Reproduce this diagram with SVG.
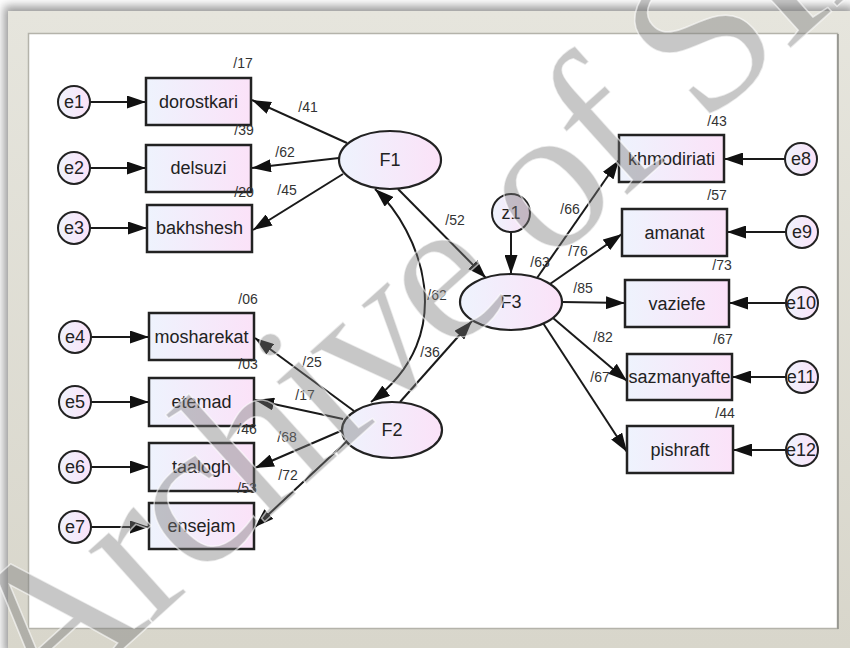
<svg xmlns="http://www.w3.org/2000/svg" width="850" height="648" viewBox="0 0 850 648">
<defs>
  <linearGradient id="nodeFill" x1="0" y1="0" x2="1" y2="0">
    <stop offset="0" stop-color="#eef3fd"/>
    <stop offset="1" stop-color="#fbe2f8"/>
  </linearGradient>
  <linearGradient id="frameFill" x1="0" y1="0" x2="0" y2="1">
    <stop offset="0" stop-color="#e6e5dd"/>
    <stop offset="1" stop-color="#d8d6cb"/>
  </linearGradient>
  <filter id="shadow" x="-5%" y="-5%" width="110%" height="110%">
    <feGaussianBlur stdDeviation="5"/>
  </filter>
  <marker id="ah" markerWidth="19" markerHeight="13" refX="19" refY="6.5" orient="auto-start-reverse" markerUnits="userSpaceOnUse">
    <path d="M0,0 L19,6.5 L0,13 z" fill="#111"/>
  </marker>
  <style>
    .box { fill: url(#nodeFill); stroke: #222; stroke-width: 2.5; }
    .ell { fill: url(#nodeFill); stroke: #222; stroke-width: 2.2; }
    .err { fill: url(#nodeFill); stroke: #222; stroke-width: 2; }
    .lbl { font-family: "Liberation Sans", Arial, sans-serif; font-size: 18px; fill: #222; text-anchor: middle; }
    .num { font-family: "Liberation Sans", Arial, sans-serif; font-size: 14px; fill: #333; text-anchor: middle; }
    .con { stroke: #1a1a1a; stroke-width: 2; fill: none; marker-end: url(#ah); }
    .wm { font-family: "Liberation Serif", "Times New Roman", serif; font-size: 210px; letter-spacing: -6px; fill: #7a7a7a; fill-opacity: 0.42; stroke: #ffffff; stroke-opacity: 0.6; stroke-width: 1.5; }
  </style>
</defs>

<!-- frame -->
<g id="frame">
  <rect x="0" y="0" width="850" height="648" fill="#ffffff"/>
  <rect x="4" y="6" width="850" height="648" fill="#9a9a9a" filter="url(#shadow)"/>
  <rect x="8" y="11" width="842" height="637" fill="url(#frameFill)"/>
  <rect x="28.5" y="33.5" width="809" height="595" fill="#ffffff" stroke="#b4b3aa" stroke-width="1.5"/>
  <line x1="838" y1="34" x2="838" y2="629" stroke="#8f8f8a" stroke-width="1.5"/>
</g>

<!-- connectors -->
<g id="connectors">
  <line class="con" x1="90" y1="102" x2="146" y2="102"/>
  <line class="con" x1="90" y1="168" x2="146" y2="168"/>
  <line class="con" x1="90" y1="228" x2="147" y2="228"/>
  <line class="con" x1="91" y1="337" x2="149" y2="337"/>
  <line class="con" x1="91" y1="402" x2="149" y2="402"/>
  <line class="con" x1="91" y1="467" x2="149" y2="467"/>
  <line class="con" x1="91" y1="527" x2="149" y2="527"/>
  <line class="con" x1="785" y1="159" x2="724" y2="159"/>
  <line class="con" x1="786" y1="232" x2="727" y2="232"/>
  <line class="con" x1="786" y1="303" x2="729" y2="303"/>
  <line class="con" x1="786" y1="377" x2="732" y2="377"/>
  <line class="con" x1="786" y1="450" x2="733" y2="450"/>
  <line class="con" x1="347" y1="143" x2="252" y2="100"/>
  <line class="con" x1="339" y1="158" x2="252" y2="168"/>
  <line class="con" x1="343" y1="174" x2="253" y2="230"/>
  <line class="con" x1="354" y1="411" x2="255" y2="338"/>
  <line class="con" x1="343" y1="419" x2="255" y2="400"/>
  <line class="con" x1="343" y1="430" x2="255" y2="468"/>
  <line class="con" x1="346" y1="442" x2="255" y2="527"/>
  <line class="con" x1="398" y1="189" x2="486" y2="278"/>
  <line class="con" x1="400" y1="402" x2="472" y2="321"/>
  <line class="con" x1="511" y1="232" x2="511" y2="274"/>
  <path class="con" d="M375,189 C420,230 462,335 371,402" marker-start="url(#ah)"/>
  <line class="con" x1="537" y1="278" x2="619" y2="160"/>
  <line class="con" x1="550" y1="284" x2="622" y2="234"/>
  <line class="con" x1="562" y1="302" x2="625" y2="303"/>
  <line class="con" x1="553" y1="318" x2="627" y2="381"/>
  <line class="con" x1="543" y1="323" x2="627" y2="452"/>
</g>

<!-- path coefficient labels -->
<g id="coefficients">
  <text class="num" x="308" y="112">/41</text>
  <text class="num" x="285" y="157">/62</text>
  <text class="num" x="287" y="195">/45</text>
  <text class="num" x="312" y="367">/25</text>
  <text class="num" x="305" y="400">/17</text>
  <text class="num" x="287" y="442">/68</text>
  <text class="num" x="288" y="480">/72</text>
  <text class="num" x="455" y="225">/52</text>
  <text class="num" x="437" y="300">/62</text>
  <text class="num" x="430" y="357">/36</text>
  <text class="num" x="570" y="214">/66</text>
  <text class="num" x="578" y="256">/76</text>
  <text class="num" x="583" y="293">/85</text>
  <text class="num" x="603" y="342">/82</text>
  <text class="num" x="600" y="382">/67</text>
</g>

<!-- nodes -->
<g id="e1"><ellipse class="err" cx="74" cy="102" rx="16" ry="16"/><text class="lbl" x="74" y="108">e1</text></g>
<g id="e2"><ellipse class="err" cx="74" cy="168" rx="16" ry="16"/><text class="lbl" x="74" y="174">e2</text></g>
<g id="e3"><ellipse class="err" cx="74" cy="228" rx="16" ry="16"/><text class="lbl" x="74" y="234">e3</text></g>
<g id="e4"><ellipse class="err" cx="75" cy="337" rx="16" ry="16"/><text class="lbl" x="75" y="343">e4</text></g>
<g id="e5"><ellipse class="err" cx="75" cy="402" rx="16" ry="16"/><text class="lbl" x="75" y="408">e5</text></g>
<g id="e6"><ellipse class="err" cx="75" cy="467" rx="16" ry="16"/><text class="lbl" x="75" y="473">e6</text></g>
<g id="e7"><ellipse class="err" cx="75" cy="527" rx="16" ry="16"/><text class="lbl" x="75" y="533">e7</text></g>

<g id="dorostkari"><rect class="box" x="146" y="78" width="105" height="47"/><text class="lbl" x="198.5" y="108">dorostkari</text><text class="num" x="243" y="68">/17</text></g>
<g id="delsuzi"><rect class="box" x="146" y="145" width="105" height="47"/><text class="lbl" x="198.5" y="174">delsuzi</text><text class="num" x="244" y="135">/39</text></g>
<g id="bakhshesh"><rect class="box" x="147" y="205" width="105" height="47"/><text class="lbl" x="199.5" y="234">bakhshesh</text><text class="num" x="244" y="197">/20</text></g>

<g id="mosharekat"><rect class="box" x="149" y="313" width="105" height="47"/><text class="lbl" x="201.5" y="343">mosharekat</text><text class="num" x="248" y="304">/06</text></g>
<g id="etemad"><rect class="box" x="149" y="378" width="105" height="48"/><text class="lbl" x="201.5" y="408">etemad</text><text class="num" x="248" y="369">/03</text></g>
<g id="taalogh"><rect class="box" x="149" y="443" width="105" height="48"/><text class="lbl" x="201.5" y="473">taalogh</text><text class="num" x="247" y="434">/46</text></g>
<g id="ensejam"><rect class="box" x="149" y="503" width="105" height="46"/><text class="lbl" x="201.5" y="532">ensejam</text><text class="num" x="247" y="493">/53</text></g>

<g id="F1"><ellipse class="ell" cx="390" cy="160" rx="51" ry="29"/><text class="lbl" x="390" y="166">F1</text></g>
<g id="F2"><ellipse class="ell" cx="392" cy="430" rx="50" ry="28"/><text class="lbl" x="392" y="436">F2</text></g>
<g id="F3"><ellipse class="ell" cx="511" cy="302" rx="51" ry="28"/><text class="lbl" x="511" y="308">F3</text><text class="num" x="540" y="267">/63</text></g>
<g id="z1"><ellipse class="err" cx="511" cy="213" rx="19" ry="19"/><text class="lbl" x="511" y="219">z1</text></g>

<g id="khmodiriati"><rect class="box" x="619" y="135" width="105" height="47"/><text class="lbl" x="671.5" y="165">khmodiriati</text><text class="num" x="717" y="126">/43</text></g>
<g id="amanat"><rect class="box" x="622" y="209" width="105" height="47"/><text class="lbl" x="674.5" y="239">amanat</text><text class="num" x="717" y="200">/57</text></g>
<g id="vaziefe"><rect class="box" x="625" y="280" width="104" height="47"/><text class="lbl" x="677" y="310">vaziefe</text><text class="num" x="722" y="270">/73</text></g>
<g id="sazmanyafte"><rect class="box" x="627" y="354" width="105" height="46"/><text class="lbl" x="679.5" y="383">sazmanyafte</text><text class="num" x="723" y="344">/67</text></g>
<g id="pishraft"><rect class="box" x="627" y="426" width="106" height="47"/><text class="lbl" x="680" y="456">pishraft</text><text class="num" x="725" y="418">/44</text></g>

<g id="e8"><ellipse class="err" cx="801" cy="159" rx="16" ry="16"/><text class="lbl" x="801" y="165">e8</text></g>
<g id="e9"><ellipse class="err" cx="802" cy="232" rx="16" ry="16"/><text class="lbl" x="802" y="238">e9</text></g>
<g id="e10"><ellipse class="err" cx="802" cy="303" rx="16" ry="16"/><text class="lbl" x="801" y="309">e10</text></g>
<g id="e11"><ellipse class="err" cx="802" cy="377" rx="16" ry="16"/><text class="lbl" x="801" y="383">e11</text></g>
<g id="e12"><ellipse class="err" cx="802" cy="450" rx="16" ry="16"/><text class="lbl" x="801" y="456">e12</text></g>

<!-- watermark -->
<text class="wm" x="41" y="723" transform="rotate(-42 41 723)">Archive of SID</text>
</svg>
